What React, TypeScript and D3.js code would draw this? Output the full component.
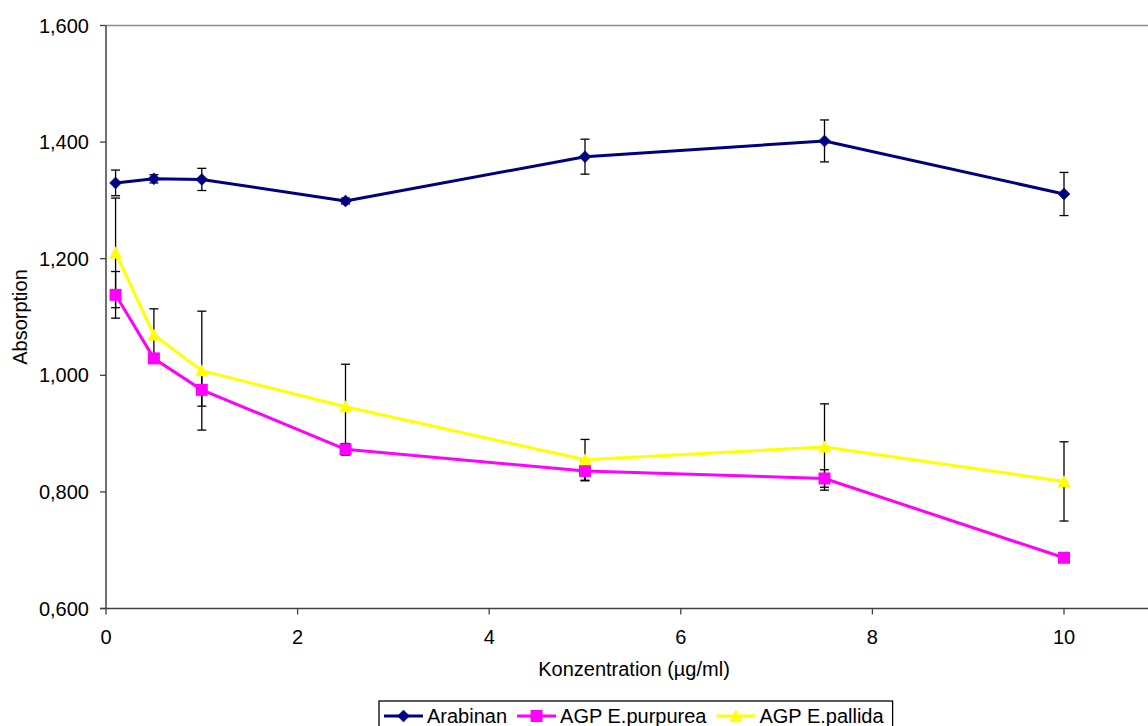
import React, { useEffect, useRef } from "react";
import * as d3 from "d3";

const concentrations = [0.1, 0.5, 1, 2.5, 5, 7.5, 10];
const arabinan = [1.330, 1.337, 1.336, 1.299, 1.375, 1.402, 1.311];
const arabinanErr = [0.022, 0.007, 0.019, 0.005, 0.030, 0.036, 0.037];
const purpurea = [1.138, 1.029, 0.975, 0.873, 0.836, 0.823, 0.687];
const purpureaErr = [0.040, 0.008, 0.028, 0.010, 0.017, 0.015, 0.004];
const pallida = [1.210, 1.069, 1.008, 0.946, 0.855, 0.877, 0.818];
const pallidaErr = [0.094, 0.045, 0.102, 0.073, 0.035, 0.074, 0.068];
const seriesNames = ["Arabinan", "AGP E.purpurea", "AGP E.pallida"];
const xTicks = [0, 2, 4, 6, 8, 10];
const yTicks = [0.6, 0.8, 1.0, 1.2, 1.4, 1.6];

const W = 1148;
const H = 726;
const FONT = "'Liberation Sans', Arial, sans-serif";
const FS = 20;

export default function App() {
  const ref = useRef<SVGSVGElement | null>(null);

  useEffect(() => {
    const svg = d3.select(ref.current);
    svg.selectAll("*").remove();

    const x = d3.scaleLinear().domain([0, 10]).range([106, 1064]);
    const y = d3.scaleLinear().domain([0.6, 1.6]).range([608.5, 25.5]);
    const fmt = (v: number) => d3.format(".3f")(v).replace(".", ",");

    const series = [
      { name: seriesNames[0], values: arabinan, err: arabinanErr, color: "#000080", shape: "diamond" },
      { name: seriesNames[1], values: purpurea, err: purpureaErr, color: "#FF00FF", shape: "square" },
      { name: seriesNames[2], values: pallida, err: pallidaErr, color: "#FFFF00", shape: "triangle" },
    ];

    // top gridline
    svg.append("line").attr("x1", x(0)).attr("x2", W).attr("y1", y(1.6)).attr("y2", y(1.6))
      .attr("stroke", "#8c8c8c").attr("stroke-width", 1.3);

    // y axis
    const yAxis = svg.append("g");
    yAxis.append("line").attr("x1", x(0)).attr("x2", x(0)).attr("y1", y(1.6)).attr("y2", y(0.6))
      .attr("stroke", "#404040").attr("stroke-width", 1.5);
    yTicks.forEach((t) => {
      yAxis.append("line").attr("x1", x(0) - 6).attr("x2", x(0)).attr("y1", y(t)).attr("y2", y(t))
        .attr("stroke", "#404040").attr("stroke-width", 1.3);
      yAxis.append("text").attr("x", 89).attr("y", y(t)).attr("dy", "0.35em")
        .attr("text-anchor", "end").attr("font-family", FONT).attr("font-size", FS)
        .attr("fill", "#000").text(fmt(t));
    });

    // x axis
    const xAxis = svg.append("g");
    xAxis.append("line").attr("x1", x(0) - 6).attr("x2", W).attr("y1", y(0.6)).attr("y2", y(0.6))
      .attr("stroke", "#404040").attr("stroke-width", 1.5);
    xTicks.forEach((t) => {
      xAxis.append("line").attr("x1", x(t)).attr("x2", x(t)).attr("y1", y(0.6)).attr("y2", y(0.6) + 6)
        .attr("stroke", "#404040").attr("stroke-width", 1.3);
      xAxis.append("text").attr("x", x(t)).attr("y", 637).attr("dy", "0.35em")
        .attr("text-anchor", "middle").attr("font-family", FONT).attr("font-size", FS)
        .attr("fill", "#000").text(String(t));
    });

    // titles
    svg.append("text").attr("x", 634).attr("y", 669).attr("dy", "0.35em").attr("text-anchor", "middle")
      .attr("font-family", FONT).attr("font-size", FS).text("Konzentration (µg/ml)");
    svg.append("text").attr("transform", `translate(20,317) rotate(-90)`).attr("dy", "0.35em")
      .attr("text-anchor", "middle").attr("font-family", FONT).attr("font-size", FS).text("Absorption");

    const drawMarker = (g: any, shape: string, cx: number, cy: number, color: string) => {
      if (shape === "diamond") {
        const s = 6;
        g.append("path").attr("d", `M${cx},${cy - s}L${cx + s},${cy}L${cx},${cy + s}L${cx - s},${cy}Z`)
          .attr("fill", color).attr("stroke", color).attr("stroke-width", 0.5);
      } else if (shape === "square") {
        const s = 6;
        g.append("rect").attr("x", cx - s).attr("y", cy - s).attr("width", 2 * s).attr("height", 2 * s)
          .attr("fill", color);
      } else {
        const s = 6.5;
        g.append("path").attr("d", `M${cx},${cy - s}L${cx + s},${cy + s * 0.85}L${cx - s},${cy + s * 0.85}Z`)
          .attr("fill", color);
      }
    };

    const line = d3.line<number>().x((_, i) => x(concentrations[i])).y((d) => y(d));

    // error bars
    const eg = svg.append("g");
    series.forEach((s) => {
      s.values.forEach((v, i) => {
        const cx = x(concentrations[i]);
        const top = y(v + s.err[i]);
        const bot = y(v - s.err[i]);
        eg.append("line").attr("x1", cx).attr("x2", cx).attr("y1", top).attr("y2", bot)
          .attr("stroke", "#000").attr("stroke-width", 1.3);
        [top, bot].forEach((yy) => {
          eg.append("line").attr("x1", cx - 4.5).attr("x2", cx + 4.5).attr("y1", yy).attr("y2", yy)
            .attr("stroke", "#000").attr("stroke-width", 1.3);
        });
      });
    });

    // lines & markers
    series.forEach((s) => {
      const g = svg.append("g");
      g.append("path").attr("d", line(s.values)).attr("fill", "none").attr("stroke", s.color)
        .attr("stroke-width", 3).attr("stroke-linejoin", "round");
      s.values.forEach((v, i) => drawMarker(g, s.shape, x(concentrations[i]), y(v), s.color));
    });

    // legend
    const lg = svg.append("g");
    const boxLeft = 379;
    const boxTop = 701;
    const sampleLen = 39;
    let cursor = boxLeft + 5;
    const ly = 716;
    series.forEach((s, idx) => {
      lg.append("line").attr("x1", cursor).attr("x2", cursor + sampleLen).attr("y1", ly).attr("y2", ly)
        .attr("stroke", s.color).attr("stroke-width", 3);
      drawMarker(lg, s.shape, cursor + sampleLen / 2, ly, s.color);
      const t = lg.append("text").attr("x", cursor + sampleLen + 4).attr("y", ly).attr("dy", "0.35em")
        .attr("font-family", FONT).attr("font-size", FS).text(s.name);
      const w = (t.node() as SVGTextElement).getComputedTextLength();
      cursor = cursor + sampleLen + 4 + w + (idx < series.length - 1 ? 10 : 9);
    });
    lg.insert("rect", ":first-child").attr("x", boxLeft).attr("y", boxTop).attr("width", cursor - boxLeft)
      .attr("height", 40).attr("fill", "#fff").attr("stroke", "#000").attr("stroke-width", 1.3);
  }, []);

  return (
    <svg ref={ref} width={W} height={H}
      style={{ position: "fixed", left: 0, top: 0, background: "#fff" }} />
  );
}
